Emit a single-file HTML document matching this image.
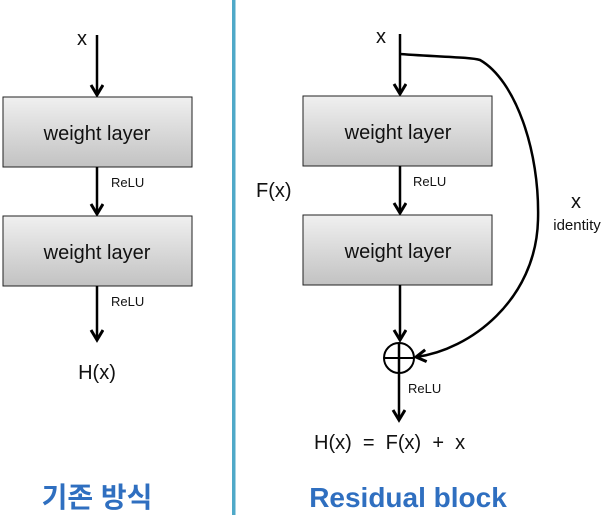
<!DOCTYPE html>
<html><head><meta charset="utf-8"><style>
html,body{margin:0;padding:0;background:#fff;width:610px;height:515px;overflow:hidden}
svg{display:block}
text{font-family:"Liberation Sans","Noto Sans CJK KR",sans-serif;fill:#111}
</style></head><body>
<svg width="610" height="515" viewBox="0 0 610 515" xmlns="http://www.w3.org/2000/svg">
<defs>
<linearGradient id="g" x1="0" y1="0" x2="0" y2="1">
<stop offset="0" stop-color="#f0f0f0"/><stop offset="1" stop-color="#c2c2c2"/>
</linearGradient>
<marker id="a" markerWidth="16" markerHeight="16" refX="11" refY="7" orient="auto" markerUnits="userSpaceOnUse">
<path d="M1,1 L11,7 L1,13" fill="none" stroke="#000" stroke-width="3"/>
</marker>
</defs>
<rect x="232" y="0" width="3.5" height="515" fill="#4fa9c8"/>
<!-- left -->
<text x="82" y="45" font-size="20" text-anchor="middle">x</text>
<line x1="97" y1="35" x2="97" y2="95" stroke="#000" stroke-width="2.5" marker-end="url(#a)"/>
<rect x="3" y="97" width="189" height="70" fill="url(#g)" stroke="#222" stroke-width="1"/>
<text x="97" y="140" font-size="20" text-anchor="middle">weight layer</text>
<line x1="97" y1="167" x2="97" y2="214" stroke="#000" stroke-width="2.5" marker-end="url(#a)"/>
<text x="111" y="187" font-size="13">ReLU</text>
<rect x="3" y="216" width="189" height="70" fill="url(#g)" stroke="#222" stroke-width="1"/>
<text x="97" y="259" font-size="20" text-anchor="middle">weight layer</text>
<line x1="97" y1="286" x2="97" y2="340" stroke="#000" stroke-width="2.5" marker-end="url(#a)"/>
<text x="111" y="306" font-size="13">ReLU</text>
<text x="97" y="379" font-size="20" text-anchor="middle">H(x)</text>
<text x="97" y="507" font-size="28" font-weight="bold" text-anchor="middle" style="fill:#2f6fc0">기존 방식</text>
<!-- right -->
<text x="381" y="43" font-size="20" text-anchor="middle">x</text>
<line x1="400" y1="34" x2="400" y2="94" stroke="#000" stroke-width="2.5" marker-end="url(#a)"/>
<path d="M400,54 C440,57 470,57 480,60 C515,80 540,150 538,220 C536,300 470,350 416,357" fill="none" stroke="#000" stroke-width="2.5" marker-end="url(#a)"/>
<rect x="303" y="96" width="189" height="70" fill="url(#g)" stroke="#222" stroke-width="1"/>
<text x="398" y="139" font-size="20" text-anchor="middle">weight layer</text>
<line x1="400" y1="166" x2="400" y2="213" stroke="#000" stroke-width="2.5" marker-end="url(#a)"/>
<text x="413" y="186" font-size="13">ReLU</text>
<text x="256" y="197" font-size="20">F(x)</text>
<rect x="303" y="215" width="189" height="70" fill="url(#g)" stroke="#222" stroke-width="1"/>
<text x="398" y="258" font-size="20" text-anchor="middle">weight layer</text>
<line x1="400" y1="285" x2="400" y2="340" stroke="#000" stroke-width="2.5" marker-end="url(#a)"/>
<circle cx="399" cy="358" r="15" fill="none" stroke="#000" stroke-width="2"/>
<line x1="384" y1="358" x2="414" y2="358" stroke="#000" stroke-width="2"/>
<line x1="399" y1="343" x2="399" y2="420" stroke="#000" stroke-width="2.5" marker-end="url(#a)"/>
<text x="408" y="393" font-size="13">ReLU</text>
<text x="576" y="208" font-size="20" text-anchor="middle">x</text>
<text x="577" y="230" font-size="15" text-anchor="middle">identity</text>
<text x="314" y="449" font-size="20" xml:space="preserve">H(x)  =  F(x)  +  x</text>
<text x="408" y="507" font-size="28" font-weight="bold" text-anchor="middle" style="fill:#2f6fc0">Residual block</text>
</svg>
</body></html>
